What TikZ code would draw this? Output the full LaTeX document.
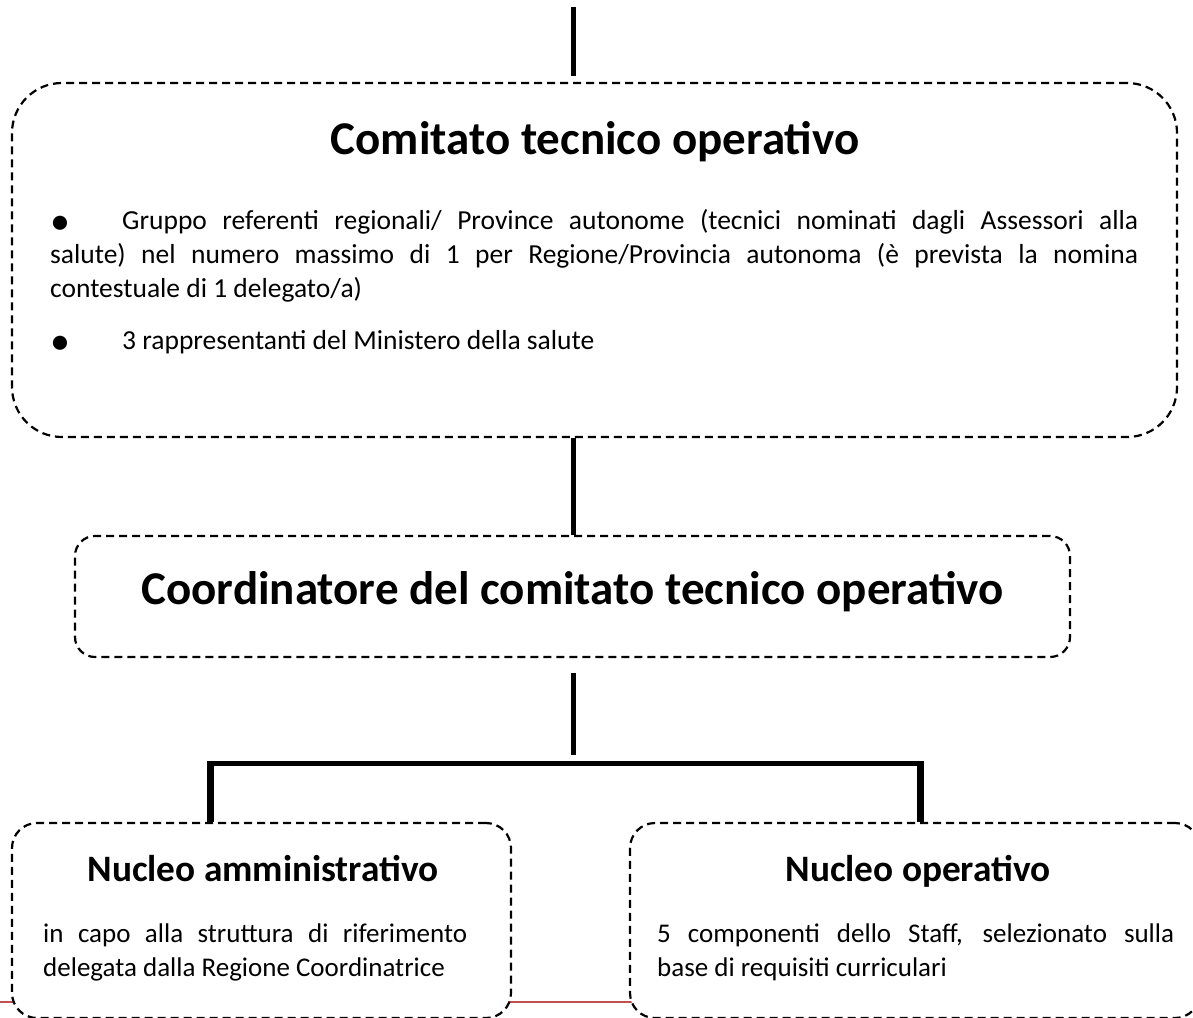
\documentclass[tikz,border=0pt]{standalone}
\usepackage{fontspec}
\setmainfont{Carlito}
\definecolor{footerred}{RGB}{192,80,77}
\newcommand{\bigbullet}{\raisebox{-5pt}{\fontsize{40}{40}\selectfont •}}
\begin{document}
\begin{tikzpicture}[x=1pt,y=-1pt,
  box/.style={draw=black, dash pattern=on 8pt off 5pt, line width=2.2pt, fill=white, inner sep=0pt},
  conn/.style={line width=5pt, black},
  dropline/.style={line width=7pt, black},
  titlebig/.style={font=\fontsize{47}{56}\selectfont\bfseries, inner sep=0pt, anchor=base},
  titlesmall/.style={font=\fontsize{37.3}{44}\selectfont\bfseries, inner sep=0pt, anchor=base},
  body/.style={font=\fontsize{27.5}{34}\selectfont, inner sep=0pt, anchor=base west},
  bodysmall/.style={font=\fontsize{27}{34}\selectfont, inner sep=0pt, anchor=base west},
]
\useasboundingbox (0,0) rectangle (1193,1017);
% footer rule of the page, hidden by the boxes
\coordinate (ruleL) at (0,1002);
\coordinate (ruleR) at (1193,1002);
\draw[footerred, line width=2.5pt] (ruleL) -- (ruleR);

% boxes
\node[box, rounded corners=50pt, minimum width=1165pt, minimum height=354pt] (cto) at (594.5,260) {};
\node[box, rounded corners=20pt, minimum width=995pt, minimum height=121pt] (coord) at (572.5,596.5) {};
\node[box, rounded corners=25pt, minimum width=499pt, minimum height=195pt] (nam) at (261.5,920.5) {};
\node[box, rounded corners=25pt, minimum width=570pt, minimum height=195pt] (nop) at (915,920.5) {};

% texts
\node[titlebig] (ctot) at (595,154) {Comitato tecnico operativo};
\node[body] (l1) at (50,229) {\makebox[1088pt][s]{\makebox[72pt][l]{\bigbullet}Gruppo referenti regionali/ Province autonome (tecnici nominati dagli Assessori alla}};
\node[body] (l2) at (50,263) {\makebox[1088pt][s]{salute) nel numero massimo di 1 per Regione/Provincia autonoma (è prevista la nomina}};
\node[body] (l3) at (50,297) {contestuale di 1 delegato/a)};
\node[body] (l4) at (50,349) {\makebox[72pt][l]{\bigbullet}3 rappresentanti del Ministero della salute};

\node[titlebig] (coordt) at (572.5,604) {Coordinatore del comitato tecnico operativo};

\node[titlesmall] (namt) at (263,881) {Nucleo amministrativo};
\node[bodysmall] (n1) at (43,942) {\makebox[424pt][s]{in capo alla struttura di riferimento}};
\node[bodysmall] (n2) at (43,976) {delegata dalla Regione Coordinatrice};

\node[titlesmall] (nopt) at (918,881) {Nucleo operativo};
\node[bodysmall] (o1) at (657,942) {\makebox[517pt][s]{5 componenti dello Staff, selezionato sulla}};
\node[bodysmall] (o2) at (657,976) {base di requisiti curriculari};

% connectors
\coordinate (top) at (573,7);
\coordinate (barL) at (210,763);
\coordinate (barM) at (573,763);
\coordinate (barR) at (920,763);
\draw[conn, shorten >=6pt] (top) -- (top |- cto.north);
\draw[conn] (top |- cto.south) -- (top |- coord.north);
\draw[conn, shorten <=15pt, shorten >=8pt] (top |- coord.south) -- (barM);
\draw[conn] (barL) -- (barR);
\draw[dropline] ([yshift=2.5pt]barL) -- (barL |- nam.north);
\draw[dropline] ([yshift=2.5pt]barR) -- (barR |- nop.north);
\end{tikzpicture}
\end{document}
